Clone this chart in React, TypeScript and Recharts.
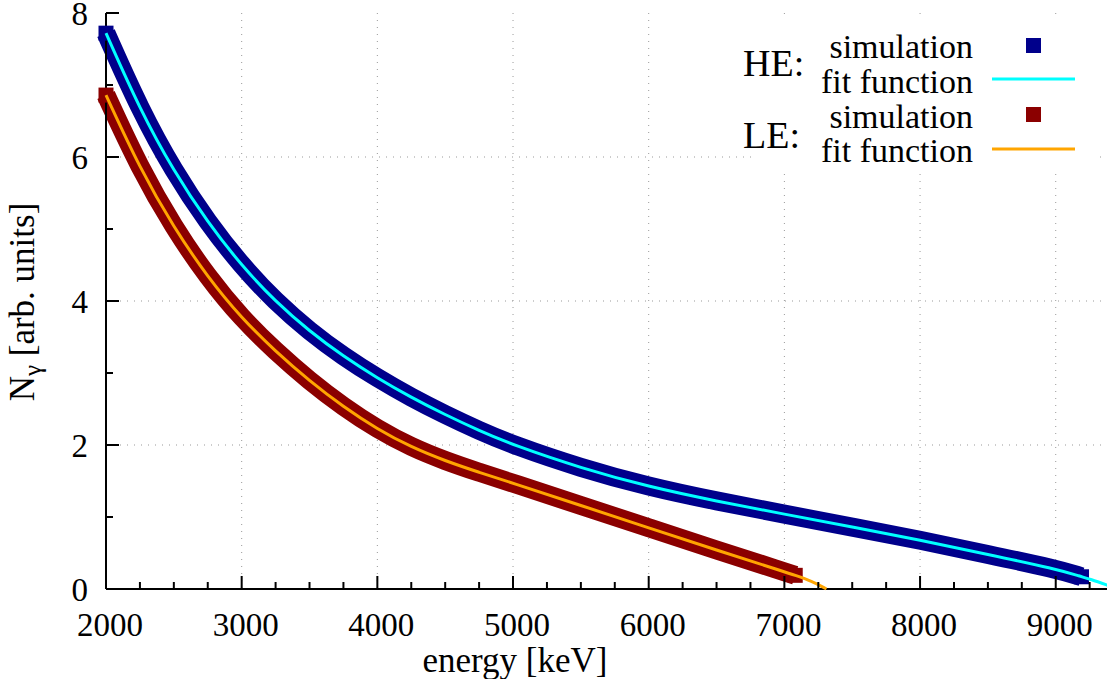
import React from 'react';
import { ComposedChart, Line, XAxis, YAxis, CartesianGrid } from 'recharts';

// HE: simulation and fit
const HE_ENERGY = [2000, 2250, 2500, 2750, 3000, 3250, 3500, 3750, 4000, 4250, 4500, 4750, 5000, 5500, 6000, 6500, 7000, 7500, 8000, 8500, 9000, 9190];
const HE_SIM = [7.72, 6.66, 5.8, 5.09, 4.49, 3.99, 3.58, 3.23, 2.93, 2.66, 2.42, 2.2, 2.0, 1.68, 1.42, 1.22, 1.04, 0.86, 0.68, 0.48, 0.28, 0.17];
const HE_FIT_TAIL_ENERGY = [9250, 9400];
const HE_FIT_TAIL = [0.14, 0.04];

// LE: simulation and fit
const LE_ENERGY = [2000, 2250, 2500, 2750, 3000, 3250, 3500, 3750, 4000, 4250, 4500, 4750, 5000, 5500, 6000, 6500, 7000, 7080];
const LE_SIM = [6.86, 5.84, 5.02, 4.33, 3.76, 3.3, 2.89, 2.53, 2.22, 1.97, 1.78, 1.62, 1.47, 1.16, 0.85, 0.54, 0.24, 0.19];
const LE_FIT_TAIL_ENERGY = [7200, 7310];
const LE_FIT_TAIL = [0.11, 0.0];

const X_TICKS = [2000, 2250, 2500, 2750, 3000, 3250, 3500, 3750, 4000, 4250, 4500, 4750, 5000, 5250, 5500, 5750, 6000, 6250, 6500, 6750, 7000, 7250, 7500, 7750, 8000, 8250, 8500, 8750, 9000, 9250];
const X_GRID = [3000, 4000, 5000, 6000, 7000, 8000, 9000];
const Y_TICKS = [0, 1, 2, 3, 4, 5, 6, 7, 8];
const Y_GRID = [2, 4, 6];

const COLORS = {
  heSim: '#00008b',
  heFit: '#00ffff',
  leSim: '#8b0000',
  leFit: '#ffa500',
};

const FONT = '"Liberation Serif", "Times New Roman", serif';

const toPoints = (xs: number[], ys: number[]) => xs.map((e, i) => ({ e, v: ys[i] }));

const heSim = toPoints(HE_ENERGY, HE_SIM);
const heFit = toPoints([...HE_ENERGY, ...HE_FIT_TAIL_ENERGY], [...HE_SIM, ...HE_FIT_TAIL]);
const leSim = toPoints(LE_ENERGY, LE_SIM);
const leFit = toPoints([...LE_ENERGY, ...LE_FIT_TAIL_ENERGY], [...LE_SIM, ...LE_FIT_TAIL]);

// square marker, only at the two ends of the band (the thick stroke covers the rest)
const makeEndSquare = (count: number) => (props: any) => {
  const { cx, cy, stroke, index } = props;
  if (cx == null || cy == null) return <g key={`sq-${index}`} />;
  if (index !== 0 && index !== count - 1) return <g key={`sq-${index}`} />;
  return <rect key={`sq-${index}`} x={cx - 7.5} y={cy - 7.5} width={15} height={15} fill={stroke} />;
};

const BottomTick = ({ x, y, payload }: any) => {
  const major = payload.value % 1000 === 0;
  return (
    <g>
      <line x1={x} y1={y} x2={x} y2={y - (major ? 13 : 7)} stroke="#000" strokeWidth={2} />
      {major && (
        <text x={x + 4} y={y + 47} textAnchor="middle" fontSize={33} fontFamily={FONT} fill="#000">
          {payload.value}
        </text>
      )}
    </g>
  );
};

const TopTick = ({ x, y, payload }: any) => {
  const major = payload.value % 1000 === 0;
  return <line x1={x} y1={y} x2={x} y2={y + (major ? 13 : 7)} stroke="#000" strokeWidth={2} />;
};

const LeftTick = ({ x, y, payload }: any) => {
  const major = payload.value % 2 === 0;
  return (
    <g>
      <line x1={x} y1={y} x2={x + (major ? 13 : 7)} y2={y} stroke="#000" strokeWidth={2} />
      {major && (
        <text x={x - 18} y={y + 12} textAnchor="end" fontSize={33} fontFamily={FONT} fill="#000">
          {payload.value}
        </text>
      )}
    </g>
  );
};

const RightTick = ({ x, y, payload }: any) => {
  const major = payload.value % 2 === 0;
  return <line x1={x} y1={y} x2={x - (major ? 13 : 7)} y2={y} stroke="#000" strokeWidth={2} />;
};

const axisLine = { stroke: '#000', strokeWidth: 2 };

export default function App() {
  return (
    <div style={{ position: 'absolute', left: 0, top: 0, width: 1107, height: 679, overflow: 'hidden', background: '#fff' }}>
      <ComposedChart width={1112} height={679} margin={{ top: 13, right: 0, bottom: 0, left: 0 }}>
        <CartesianGrid
          xAxisId="x"
          yAxisId="y"
          verticalValues={X_GRID}
          horizontalValues={Y_GRID}
          stroke="#999"
          strokeDasharray="1 6"
          strokeWidth={1}
        />
        <XAxis
          xAxisId="x"
          dataKey="e"
          type="number"
          domain={[2000, 9400]}
          ticks={X_TICKS}
          interval={0}
          height={90}
          tickSize={0}
          tickMargin={0}
          tickLine={false}
          axisLine={axisLine}
          tick={<BottomTick />}
        />
        <XAxis
          xAxisId="top"
          orientation="top"
          dataKey="e"
          type="number"
          domain={[2000, 9400]}
          ticks={X_TICKS}
          interval={0}
          height={0}
          tickSize={0}
          tickMargin={0}
          tickLine={false}
          axisLine={axisLine}
          tick={<TopTick />}
        />
        <YAxis
          yAxisId="y"
          type="number"
          domain={[0, 8]}
          ticks={Y_TICKS}
          interval={0}
          width={106}
          tickSize={0}
          tickMargin={0}
          tickLine={false}
          axisLine={axisLine}
          tick={<LeftTick />}
        />
        <YAxis
          yAxisId="yr"
          orientation="right"
          type="number"
          domain={[0, 8]}
          ticks={Y_TICKS}
          interval={0}
          width={2}
          tickSize={0}
          tickMargin={0}
          tickLine={false}
          axisLine={axisLine}
          tick={<RightTick />}
        />
        <Line
          xAxisId="x"
          yAxisId="y"
          data={heSim}
          dataKey="v"
          type="basis"
          stroke={COLORS.heSim}
          strokeWidth={19}
          strokeLinecap="butt"
          dot={makeEndSquare(heSim.length)}
          activeDot={false}
          isAnimationActive={false}
        />
        <Line
          xAxisId="x"
          yAxisId="y"
          data={leSim}
          dataKey="v"
          type="basis"
          stroke={COLORS.leSim}
          strokeWidth={19}
          strokeLinecap="butt"
          dot={makeEndSquare(leSim.length)}
          activeDot={false}
          isAnimationActive={false}
        />
        <Line
          xAxisId="x"
          yAxisId="y"
          data={heFit}
          dataKey="v"
          type="basis"
          stroke={COLORS.heFit}
          strokeWidth={3}
          dot={false}
          activeDot={false}
          zIndex={1000}
          isAnimationActive={false}
        />
        <Line
          xAxisId="x"
          yAxisId="y"
          data={leFit}
          dataKey="v"
          type="basis"
          stroke={COLORS.leFit}
          strokeWidth={3}
          dot={false}
          activeDot={false}
          zIndex={1000}
          isAnimationActive={false}
        />
      </ComposedChart>
      <svg width={1107} height={679} style={{ position: 'absolute', left: 0, top: 0, pointerEvents: 'none' }}>
        <rect x={757} y={20} width={340} height={150} fill="#fff" />
        <g fontFamily={FONT} fill="#000">
          <text x={743} y={76} fontSize={38}>HE:</text>
          <text x={973} y={58} fontSize={34} textAnchor="end">simulation</text>
          <text x={973} y={93} fontSize={34} textAnchor="end">fit function</text>
          <text x={743} y={148} fontSize={38}>LE:</text>
          <text x={973} y={128} fontSize={34} textAnchor="end">simulation</text>
          <text x={973} y={162} fontSize={34} textAnchor="end">fit function</text>
        </g>
        <rect x={1026} y={38} width={15} height={15} fill={COLORS.heSim} />
        <line x1={992} x2={1075} y1={79} y2={79} stroke={COLORS.heFit} strokeWidth={3} />
        <rect x={1026} y={107} width={15} height={15} fill={COLORS.leSim} />
        <line x1={992} x2={1075} y1={149} y2={149} stroke={COLORS.leFit} strokeWidth={3} />
        <text x={515} y={672} fontSize={35} fontFamily={FONT} textAnchor="middle" fill="#000">
          energy [keV]
        </text>
        <text transform="translate(34, 302) rotate(-90)" fontSize={35} fontFamily={FONT} textAnchor="middle" fill="#000">
          N<tspan fontSize={25} dy={7}>γ</tspan>
          <tspan dy={-7}> [arb. units]</tspan>
        </text>
      </svg>
    </div>
  );
}
